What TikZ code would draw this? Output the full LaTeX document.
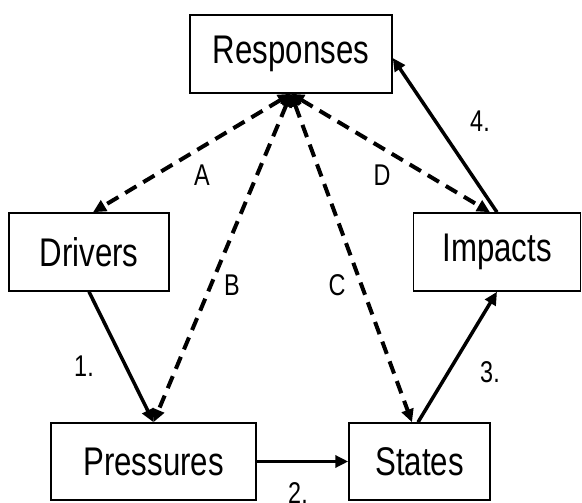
\documentclass[tikz,border=0pt]{standalone}
\usepackage{fontspec}
\setmainfont[FakeStretch=0.78]{Liberation Sans}
\usetikzlibrary{arrows.meta}
\begin{document}
\begin{tikzpicture}[x=1pt,y=-1pt,
  stagebox/.style={draw=black,line width=1.5pt,inner sep=0pt,font=\fontsize{40}{44}\selectfont},
  flow/.style={line width=3.5pt,-{Triangle[length=13pt,width=12pt]}},
  link/.style={line width=4pt,dash pattern=on 13pt off 8pt,
    {Triangle[length=13pt,width=12pt]}-{Triangle[length=13pt,width=12pt]}},
  lbl/.style={font=\fontsize{30}{34}\selectfont,inner sep=0pt}]
\useasboundingbox (0,0) rectangle (582,503);

% DPSIR stages
\node[stagebox,minimum width=202pt,minimum height=78pt] (resp) at (291,54) {Responses};
\node[stagebox,minimum width=160pt,minimum height=78pt] (drv)  at (89,252) {Drivers};
\node[stagebox,minimum width=167pt,minimum height=78pt] (imp)  at (497,252) {Impacts};
\node[stagebox,minimum width=205pt,minimum height=77pt] (pres) at (153.5,461.5) {Pressures};
\node[stagebox,minimum width=141pt,minimum height=77pt] (st)   at (419.5,461.5) {States};

% causal chain
\draw[flow] (drv.south) -- (pres.north);
\draw[flow] (pres.east) -- (st.west);
\draw[flow] ([xshift=-1.5pt]st.north) -- (imp.south);
\draw[flow] (imp.north) -- ([yshift=-4pt]resp.east);

% feedback links from responses
\draw[link] (resp.south) -- ([xshift=4pt]drv.north);
\draw[link] (resp.south) -- (pres.north);
\draw[link] (resp.south) -- ([xshift=-7.5pt]st.north);
\draw[link] (resp.south) -- ([xshift=-7pt]imp.north);

% labels
\node[lbl] (la) at (202,175) {A};
\node[lbl] (lb) at (232,285) {B};
\node[lbl] (lc) at (337,285) {C};
\node[lbl] (ld) at (382,175) {D};
\node[lbl] (l1) at (84,366) {1.};
\node[lbl] (l2) at (298,493) {2.};
\node[lbl] (l3) at (490,372) {3.};
\node[lbl] (l4) at (480,121) {4.};
\end{tikzpicture}
\end{document}
